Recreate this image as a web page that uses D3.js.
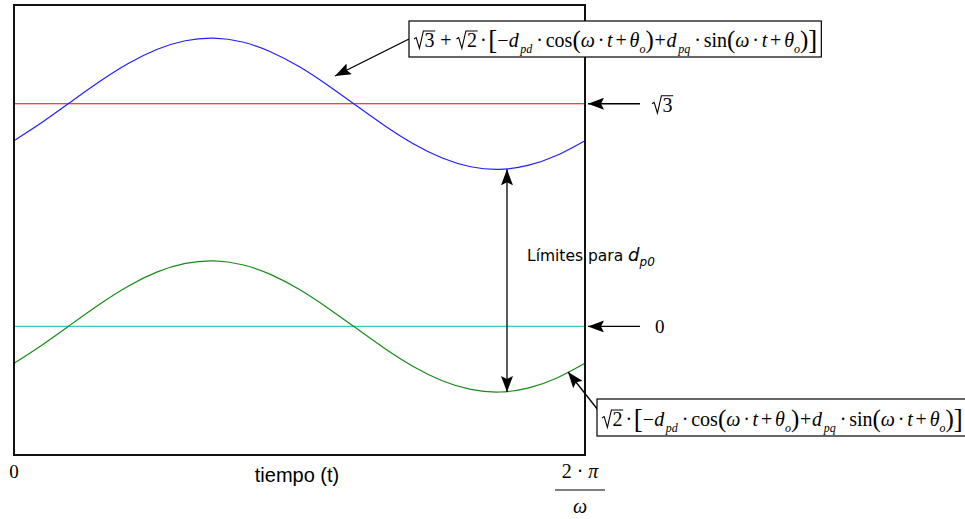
<!DOCTYPE html>
<html>
<head>
<meta charset="utf-8">
<script src="https://cdn.jsdelivr.net/npm/d3@7"></script>
<style>
  body { margin: 0; background: #fff; }
  svg { display: block; }
</style>
</head>
<body>
<svg id="chart" width="965" height="519"></svg>
<script>
// One period of the modulating signal, t normalised to [0, 1] (t = 1 is 2π/ω)
const tValues = [0, 0.05, 0.10, 0.15, 0.20, 0.25, 0.30, 0.35, 0.40, 0.45, 0.50,
                 0.55, 0.60, 0.65, 0.70, 0.75, 0.80, 0.85, 0.90, 0.95, 1.00];
// √2·[−dpd·cos(ωt+θo) + dpq·sin(ωt+θo)]
const lowerValues = [-0.287, -0.142, 0.016, 0.173, 0.313, 0.422, 0.490, 0.510, 0.480, 0.403, 0.287,
                     0.142, -0.016, -0.173, -0.313, -0.422, -0.490, -0.510, -0.480, -0.403, -0.287];
// √3 + √2·[...]
const upperValues = [1.445, 1.590, 1.748, 1.905, 2.045, 2.154, 2.222, 2.242, 2.212, 2.135, 2.019,
                     1.874, 1.716, 1.559, 1.419, 1.310, 1.242, 1.222, 1.252, 1.329, 1.445];
const levelValues = [Math.sqrt(3), 0];          // reference levels: √3 and 0
const levelColors = ["#ff0000", "#3fc6c6"];
const xTickValues = [0, 1];                     // "0" and "2·π/ω"
const yDomain = [-1, 2.5];

const svg = d3.select("#chart");
const plot = { left: 14, top: 5, right: 585, bottom: 455 };

const x = d3.scaleLinear().domain([0, 1]).range([plot.left, plot.right]);
const y = d3.scaleLinear().domain(yDomain).range([plot.bottom, plot.top]);

const SERIF = "'Liberation Serif','Times New Roman',serif";
const SANS = "'Liberation Sans',Arial,sans-serif";

// arrowhead
svg.append("defs").append("marker")
  .attr("id", "head")
  .attr("viewBox", "0 -6 16 12")
  .attr("refX", 16).attr("refY", 0)
  .attr("markerWidth", 16).attr("markerHeight", 12)
  .attr("markerUnits", "userSpaceOnUse")
  .attr("orient", "auto-start-reverse")
  .append("path").attr("d", "M0,-6L16,0L0,6L3,0Z").attr("fill", "#000");

// horizontal reference levels
svg.selectAll("line.level").data(levelValues).join("line")
  .attr("class", "level")
  .attr("x1", x(0)).attr("x2", x(1))
  .attr("y1", d => y(d)).attr("y2", d => y(d))
  .attr("stroke", (d, i) => levelColors[i]).attr("stroke-width", 1.2);

const line = d3.line().x(d => x(d[0])).y(d => y(d[1])).curve(d3.curveNatural);
svg.append("path").datum(d3.zip(tValues, upperValues))
  .attr("d", line).attr("fill", "none").attr("stroke", "#1f1fff").attr("stroke-width", 1.2);
svg.append("path").datum(d3.zip(tValues, lowerValues))
  .attr("d", line).attr("fill", "none").attr("stroke", "#178a17").attr("stroke-width", 1.2);

// frame
svg.append("rect")
  .attr("x", plot.left).attr("y", plot.top)
  .attr("width", plot.right - plot.left).attr("height", plot.bottom - plot.top)
  .attr("fill", "none").attr("stroke", "#111").attr("stroke-width", 2);

// ---- math text helper: lays pieces out left to right ----
function drawMath(g, pieces, x0, base, fs) {
  let cx = x0;
  for (const p of pieces) {
    if (p.gap !== undefined) { cx += p.gap * fs; continue; }
    if (p.rad) {
      const rw = 0.52 * fs;
      const t = g.append("text").attr("x", cx + rw).attr("y", base)
        .attr("font-family", SERIF).attr("font-size", fs).text(p.rad);
      const w = t.node().getComputedTextLength();
      const top = base - 0.8 * fs;
      g.append("path")
        .attr("d", `M${cx},${base - 0.4 * fs}L${cx + 0.11 * fs},${base - 0.47 * fs}` +
                   `L${cx + 0.27 * fs},${base + 0.07 * fs}L${cx + 0.47 * fs},${top}` +
                   `L${cx + rw + w + 0.04 * fs},${top}`)
        .attr("fill", "none").attr("stroke", "#000").attr("stroke-width", 1.1);
      cx += rw + w + 0.04 * fs;
      continue;
    }
    const size = fs * (p.s || 1);
    let dy = (p.dy || 0) * fs;
    if (p.sub) dy += 0.3 * fs;
    const t = g.append("text").attr("x", cx).attr("y", base + dy)
      .attr("font-family", SERIF).attr("font-size", size)
      .attr("font-style", p.i ? "italic" : null).text(p.t);
    cx += t.node().getComputedTextLength();
  }
  return cx;
}

const argPart = [
  { t: "ω", i: 1 }, { gap: .14 }, { t: "·" }, { gap: .14 }, { t: "t", i: 1 }, { gap: .14 },
  { t: "+" }, { gap: .14 }, { t: "θ", i: 1 }, { t: "o", i: 1, sub: 1, s: .6 }
];
const bracketPart = [].concat(
  [{ t: "[", s: 1.35, dy: .09 }, { t: "−" }, { t: "d", i: 1 }, { gap: .08 },
   { t: "pd", i: 1, sub: 1, s: .6 }, { gap: .2 }, { t: "·" }, { gap: .14 }, { t: "cos" },
   { t: "(", s: 1.25, dy: .07 }],
  argPart,
  [{ t: ")", s: 1.25, dy: .07 }, { gap: .04 }, { t: "+" }, { gap: .04 }, { t: "d", i: 1 }, { gap: .08 },
   { t: "pq", i: 1, sub: 1, s: .6 }, { gap: .2 }, { t: "·" }, { gap: .14 }, { t: "sin" },
   { t: "(", s: 1.25, dy: .07 }],
  argPart,
  [{ t: ")", s: 1.25, dy: .07 }, { t: "]", s: 1.35, dy: .09 }]
);
const upperFormula = [{ rad: "3" }, { gap: .25 }, { t: "+" }, { gap: .25 }, { rad: "2" },
  { gap: .12 }, { t: "·" }, { gap: .08 }].concat(bracketPart);
const lowerFormula = [{ rad: "2" }, { gap: .12 }, { t: "·" }, { gap: .08 }].concat(bracketPart);

function formulaBox(pieces, bx, by, bh, base, fs) {
  const g = svg.append("g");
  const rect = g.append("rect").attr("fill", "#fff").attr("stroke", "#000").attr("stroke-width", 1.2);
  const end = drawMath(g, pieces, bx + 5, base, fs);
  rect.attr("x", bx).attr("y", by).attr("width", end + 4 - bx).attr("height", bh);
}

// annotations
function arrow(x1, y1, x2, y2, both) {
  svg.append("line").attr("x1", x1).attr("y1", y1).attr("x2", x2).attr("y2", y2)
    .attr("stroke", "#000").attr("stroke-width", 1.3)
    .attr("marker-end", "url(#head)")
    .attr("marker-start", both ? "url(#head)" : null);
}

arrow(409, 39, 335, 76);
formulaBox(upperFormula, 409, 21, 36, 47, 20);

arrow(640, y(levelValues[0]), 588, y(levelValues[0]));
drawMath(svg.append("g"), [{ rad: "3" }], 652, y(levelValues[0]) + 8, 20);

arrow(640, y(levelValues[1]), 588, y(levelValues[1]));
svg.append("text").attr("x", 655).attr("y", y(levelValues[1]) + 7)
  .attr("font-family", SERIF).attr("font-size", 19).text("0");

// span between the two curve minima
arrow(507, y(d3.min(upperValues)), 507, y(d3.min(lowerValues)), true);
const lim = svg.append("text").attr("x", 527).attr("y", 261)
  .attr("font-family", "'DejaVu Sans',sans-serif").attr("font-size", 15.5);
lim.append("tspan").text("Límites para ");
lim.append("tspan").attr("font-style", "italic").attr("font-size", 18).text("d");
lim.append("tspan").attr("font-style", "italic").attr("font-size", 12).attr("dy", 5).text("p0");

arrow(598, 410, 568, 372);
formulaBox(lowerFormula, 597, 399, 37, 426, 20);

// x axis labels
svg.append("text").attr("x", x(xTickValues[0])).attr("y", 478).attr("text-anchor", "middle")
  .attr("font-family", SERIF).attr("font-size", 19).text("0");
svg.append("text").attr("x", 297).attr("y", 482).attr("text-anchor", "middle")
  .attr("font-family", SANS).attr("font-size", 20).text("tiempo (t)");
const fx = x(xTickValues[1]) - 5;
const num = svg.append("text").attr("x", fx).attr("y", 478).attr("text-anchor", "middle")
  .attr("font-family", SERIF).attr("font-size", 20);
num.append("tspan").text("2 · ");
num.append("tspan").attr("font-style", "italic").text("π");
svg.append("line").attr("x1", fx - 25).attr("x2", fx + 25).attr("y1", 490).attr("y2", 490)
  .attr("stroke", "#000").attr("stroke-width", 1.2);
svg.append("text").attr("x", fx).attr("y", 513).attr("text-anchor", "middle")
  .attr("font-family", SERIF).attr("font-size", 20).attr("font-style", "italic").text("ω");
</script>
</body>
</html>
